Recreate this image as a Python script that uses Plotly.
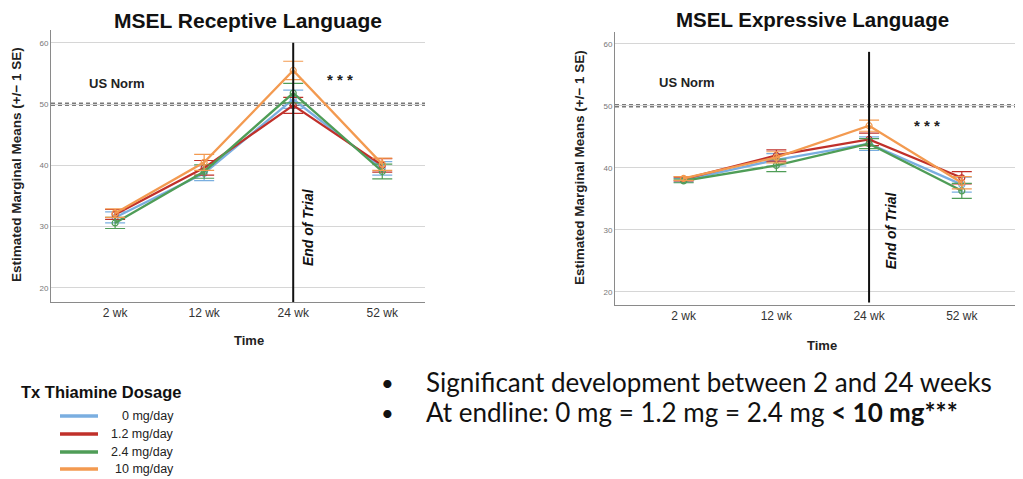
import plotly.graph_objects as go

# page body has an 8px margin, so the figure is sized to fit inside it
OFF = 8
W, H = 1023 - OFF, 479 - OFF

times = ["2 wk", "12 wk", "24 wk", "52 wk"]
doses = ["0 mg/day", "1.2 mg/day", "2.4 mg/day", "10 mg/day"]
colors = ["#7aaee0", "#c0302a", "#4f9d57", "#f39a50"]

# MSEL Receptive Language: estimated marginal means and SE
rec_0 = [31.5, 38.7, 50.8, 39.5]
rec_12 = [32.0, 39.6, 49.8, 40.0]
rec_24 = [30.6, 39.0, 51.8, 39.0]
rec_10 = [32.2, 40.5, 55.5, 40.2]
rec_se_0 = [0.9, 1.2, 1.5, 1.1]
rec_se_12 = [0.8, 1.2, 1.3, 1.1]
rec_se_24 = [0.9, 1.1, 1.6, 1.2]
rec_se_10 = [0.7, 1.3, 1.5, 1.0]

# MSEL Expressive Language
exp_0 = [38.0, 41.3, 43.9, 37.3]
exp_12 = [38.2, 42.0, 44.6, 38.4]
exp_24 = [37.9, 40.4, 43.9, 36.3]
exp_10 = [38.3, 41.7, 46.8, 37.6]
exp_se_0 = [0.3, 1.0, 1.1, 1.2]
exp_se_12 = [0.3, 0.9, 1.0, 1.0]
exp_se_24 = [0.3, 1.0, 0.8, 1.2]
exp_se_10 = [0.3, 0.9, 0.9, 1.0]

us_norm = 50
y_ticks = [20, 30, 40, 50, 60]

rec_means = [rec_0, rec_12, rec_24, rec_10]
rec_ses = [rec_se_0, rec_se_12, rec_se_24, rec_se_10]
exp_means = [exp_0, exp_12, exp_24, exp_10]
exp_ses = [exp_se_0, exp_se_12, exp_se_24, exp_se_10]

FONT = "Liberation Sans, Arial, sans-serif"

fig = go.Figure()


def add_series(means, ses, xa, ya):
    for m, s, c, d in zip(means, ses, colors, doses):
        fig.add_trace(go.Scatter(
            x=times, y=m, name=d, mode="lines+markers",
            line=dict(color=c, width=2.3),
            marker=dict(symbol="circle-open", size=6, color=c, line=dict(width=1.2)),
            error_y=dict(type="data", array=s, visible=True, color=c,
                         thickness=1.2, width=10),
            xaxis=xa, yaxis=ya, showlegend=False,
        ))


add_series(rec_means, rec_ses, "x", "y")
add_series(exp_means, exp_ses, "x2", "y2")


def px_x(p):
    return (p - OFF) / W


def px_y(p):
    return 1 - (p - OFF) / H


axis_common = dict(
    showline=True, linecolor="#8a8a8a", linewidth=1, zeroline=False,
    ticks="", mirror=False,
)

fig.update_layout(
    width=W, height=H,
    margin=dict(l=0, r=0, t=0, b=0),
    paper_bgcolor="white", plot_bgcolor="white",
    font=dict(family=FONT, color="#222"),
    xaxis=dict(domain=[px_x(51), px_x(425)], range=[-0.72, 3.48], type="category",
               showgrid=False, tickfont=dict(size=12, color="#333"), anchor="y",
               **axis_common),
    yaxis=dict(domain=[px_y(302), px_y(30)], range=[17.7, 62.1], tickvals=y_ticks,
               showgrid=True, gridcolor="#d6d6d6", gridwidth=1,
               tickfont=dict(size=8, color="#777"), anchor="x", **axis_common),
    xaxis2=dict(domain=[px_x(615), 1.0], range=[-0.74, 3.66], type="category",
                showgrid=False, tickfont=dict(size=12, color="#333"), anchor="y2",
                **axis_common),
    yaxis2=dict(domain=[px_y(305), px_y(32)], range=[17.9, 61.9], tickvals=y_ticks,
                showgrid=True, gridcolor="#d6d6d6", gridwidth=1,
                tickfont=dict(size=8, color="#777"), anchor="x2", **axis_common),
)

shapes = []
annotations = []


def ann(**kw):
    kw.setdefault("showarrow", False)
    kw.setdefault("xanchor", "center")
    kw.setdefault("yanchor", "middle")
    annotations.append(kw)


for xa, ya, vtop, vbot in [("x", "y", 60, 17.7), ("x2", "y2", 58.7, 18.3)]:
    shapes.append(dict(type="line", xref=f"{xa} domain", yref=ya, x0=0, x1=1,
                       y0=us_norm, y1=us_norm,
                       line=dict(color="#7a7a7a", width=3.5, dash="4px,3px"), layer="below"))
    shapes.append(dict(type="line", xref=xa, yref=ya, x0=times[2], x1=times[2],
                       y0=vbot, y1=vtop, line=dict(color="#111", width=2)))

# titles
ann(text="<b>MSEL Receptive Language</b>", x=px_x(248), y=px_y(21),
    xref="paper", yref="paper", font=dict(size=21, color="#111"))
ann(text="<b>MSEL Expressive Language</b>", x=px_x(812), y=px_y(20),
    xref="paper", yref="paper", font=dict(size=20.5, color="#111"))

# axis titles
for xc, yc in [(17, 165), (580, 168)]:
    ann(text="<b>Estimated Marginal Means (+/\u2212 1 SE)</b>",
        x=px_x(xc), y=px_y(yc), xref="paper", yref="paper", textangle=-90,
        font=dict(size=13.5, color="#222"))
for xc, yc in [(249, 340), (822, 345)]:
    ann(text="<b>Time</b>", x=px_x(xc), y=px_y(yc), xref="paper", yref="paper",
        font=dict(size=13, color="#222"))

# in-plot labels
for xa, ya, xn, yn, xs, ys in [("x", "y", -0.32, 53.4, 2.53, 54.0),
                               ("x2", "y2", -0.29, 53.7, 2.62, 46.8)]:
    ann(text="<b>US Norm</b>", x=xn, y=yn, xref=xa, yref=ya, xanchor="left",
        font=dict(size=13, color="#222"))
    ann(text="<b>* * *</b>", x=xs, y=ys, xref=xa, yref=ya,
        font=dict(size=15, color="#222"))

ann(text="<b><i>End of Trial</i></b>", x=2.16, y=30.0, xref="x", yref="y",
    textangle=-90, font=dict(size=14, color="#111"))
ann(text="<b><i>End of Trial</i></b>", x=2.24, y=30.0, xref="x2", yref="y2",
    textangle=-90, font=dict(size=14, color="#111"))

# legend (manual)
ann(text="<b>Tx Thiamine Dosage</b>", x=px_x(19), y=px_y(392), xref="paper", yref="paper",
    xanchor="left", font=dict(size=16.5, color="#111"))
leg_y = [416, 434, 452, 469]
for d, c, ly in zip(doses, colors, leg_y):
    shapes.append(dict(type="line", xref="paper", yref="paper", x0=px_x(60), x1=px_x(98),
                       y0=px_y(ly), y1=px_y(ly), line=dict(color=c, width=3.5)))
    ann(text=d, x=px_x(176), y=px_y(ly), xref="paper", yref="paper", xanchor="right",
        font=dict(size=12.5, color="#222"))

# bullets
BF = "Lato, Carlito, sans-serif"
for by, txt in [(382, "Significant development between 2 and 24 weeks"),
                (412, "At endline: 0 mg = 1.2 mg = 2.4 mg <b>&lt; 10 mg***</b>")]:
    ann(text="\u2022", x=px_x(387), y=px_y(by), xref="paper", yref="paper",
        font=dict(size=22, color="#111", family=BF))
    ann(text=txt, x=px_x(424), y=px_y(by), xref="paper", yref="paper", xanchor="left",
        font=dict(size=26, color="#111", family=BF))

fig.update_layout(shapes=shapes, annotations=annotations)

fig.write_html("out.html")
